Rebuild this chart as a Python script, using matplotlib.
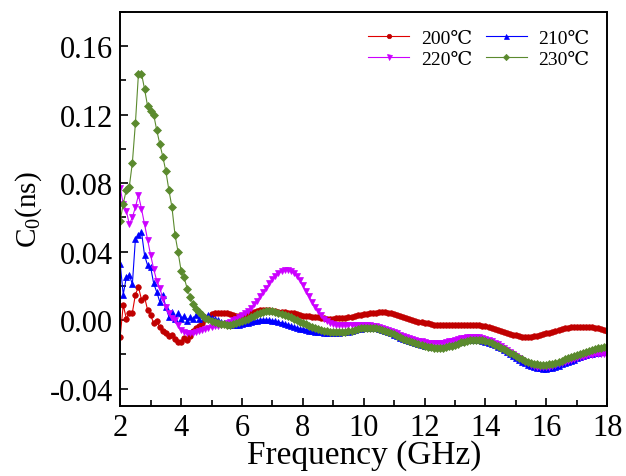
import matplotlib
matplotlib.use("Agg")
import matplotlib.pyplot as plt
from matplotlib.ticker import MultipleLocator, FormatStrFormatter

plt.rcParams['font.family'] = ['Liberation Serif', 'DejaVu Serif', 'DejaVu Sans']
plt.rcParams['axes.unicode_minus'] = False

# frequency grid (GHz)
freq = [
    2.0, 2.1, 2.2, 2.3, 2.4, 2.5, 2.6, 2.7, 2.8, 2.9,
    3.0, 3.1, 3.2, 3.3, 3.4, 3.5, 3.6, 3.7, 3.8, 3.9,
    4.0, 4.1, 4.2, 4.3, 4.4, 4.5, 4.6, 4.7, 4.8, 4.9,
    5.0, 5.1, 5.2, 5.3, 5.4, 5.5, 5.6, 5.7, 5.8, 5.9,
    6.0, 6.1, 6.2, 6.3, 6.4, 6.5, 6.6, 6.7, 6.8, 6.9,
    7.0, 7.1, 7.2, 7.3, 7.4, 7.5, 7.6, 7.7, 7.8, 7.9,
    8.0, 8.1, 8.2, 8.3, 8.4, 8.5, 8.6, 8.7, 8.8, 8.9,
    9.0, 9.1, 9.2, 9.3, 9.4, 9.5, 9.6, 9.7, 9.8, 9.9,
    10.0, 10.1, 10.2, 10.3, 10.4, 10.5, 10.6, 10.7, 10.8, 10.9,
    11.0, 11.1, 11.2, 11.3, 11.4, 11.5, 11.6, 11.7, 11.8, 11.9,
    12.0, 12.1, 12.2, 12.3, 12.4, 12.5, 12.6, 12.7, 12.8, 12.9,
    13.0, 13.1, 13.2, 13.3, 13.4, 13.5, 13.6, 13.7, 13.8, 13.9,
    14.0, 14.1, 14.2, 14.3, 14.4, 14.5, 14.6, 14.7, 14.8, 14.9,
    15.0, 15.1, 15.2, 15.3, 15.4, 15.5, 15.6, 15.7, 15.8, 15.9,
    16.0, 16.1, 16.2, 16.3, 16.4, 16.5, 16.6, 16.7, 16.8, 16.9,
    17.0, 17.1, 17.2, 17.3, 17.4, 17.5, 17.6, 17.7, 17.8, 17.9,
    18.0,
]

c0_200 = [
    -0.0095, 0.0089, 0.0010, 0.0040, 0.0045, 0.0150, 0.0195, 0.0120, 0.0135, 0.0060,
    0.0030, -0.0018, -0.0005, -0.0040, -0.0065, -0.0076, -0.0090, -0.0086, -0.0110, -0.0125,
    -0.0130, -0.0105, -0.0115, -0.0090, -0.0060, -0.0045, -0.0035, -0.0015, 0.0005, 0.0020,
    0.0035, 0.0040, 0.0042, 0.0040, 0.0043, 0.0040, 0.0035, 0.0030, 0.0025, 0.0022,
    0.0020, 0.0025, 0.0032, 0.0040, 0.0047, 0.0053, 0.0057, 0.0060, 0.0060, 0.0058,
    0.0055, 0.0052, 0.0050, 0.0048, 0.0046, 0.0045, 0.0043, 0.0040, 0.0035, 0.0030,
    0.0027, 0.0025, 0.0022, 0.0020, 0.0018, 0.0016, 0.0014, 0.0012, 0.0010, 0.0010,
    0.0010, 0.0012, 0.0012, 0.0012, 0.0014, 0.0017, 0.0020, 0.0024, 0.0028, 0.0031,
    0.0034, 0.0037, 0.0040, 0.0043, 0.0045, 0.0046, 0.0047, 0.0047, 0.0045, 0.0041,
    0.0036, 0.0030, 0.0024, 0.0018, 0.0012, 0.0006, 0.0001, -0.0004, -0.0008, -0.0012,
    -0.0016, -0.0019, -0.0022, -0.0025, -0.0027, -0.0028, -0.0029, -0.0030, -0.0030, -0.0030,
    -0.0030, -0.0030, -0.0030, -0.0029, -0.0029, -0.0028, -0.0028, -0.0029, -0.0030, -0.0032,
    -0.0035, -0.0039, -0.0044, -0.0050, -0.0056, -0.0062, -0.0068, -0.0074, -0.0080, -0.0085,
    -0.0089, -0.0092, -0.0095, -0.0096, -0.0097, -0.0096, -0.0094, -0.0091, -0.0087, -0.0082,
    -0.0077, -0.0072, -0.0067, -0.0062, -0.0057, -0.0052, -0.0048, -0.0044, -0.0041, -0.0039,
    -0.0037, -0.0037, -0.0038, -0.0039, -0.0040, -0.0042, -0.0044, -0.0047, -0.0051, -0.0056,
    -0.0062,
]

c0_210 = [
    0.0330, 0.0150, 0.0250, 0.0265, 0.0210, 0.0475, 0.0495, 0.0515, 0.0380, 0.0320,
    0.0310, 0.0215, 0.0165, 0.0108, 0.0150, 0.0075, 0.0020, 0.0050, 0.0005, 0.0040,
    0.0010, 0.0025, -0.0005, 0.0020, 0.0005, 0.0030, 0.0010, 0.0035, 0.0020, 0.0030,
    0.0015, 0.0010, 0.0000, -0.0008, -0.0015, -0.0020, -0.0025, -0.0028, -0.0028, -0.0026,
    -0.0022, -0.0018, -0.0014, -0.0010, -0.0006, -0.0003, 0.0000, 0.0002, 0.0002, 0.0001,
    -0.0002, -0.0006, -0.0010, -0.0015, -0.0020, -0.0026, -0.0032, -0.0038, -0.0044, -0.0050,
    -0.0054, -0.0057, -0.0060, -0.0063, -0.0066, -0.0068, -0.0070, -0.0072, -0.0073, -0.0074,
    -0.0074, -0.0074, -0.0073, -0.0071, -0.0069, -0.0066, -0.0062, -0.0058, -0.0054, -0.0050,
    -0.0047, -0.0045, -0.0045, -0.0046, -0.0048, -0.0052, -0.0057, -0.0063, -0.0070, -0.0077,
    -0.0085, -0.0093, -0.0101, -0.0109, -0.0116, -0.0123, -0.0129, -0.0135, -0.0140, -0.0145,
    -0.0149, -0.0152, -0.0154, -0.0155, -0.0155, -0.0154, -0.0152, -0.0149, -0.0145, -0.0140,
    -0.0135, -0.0130, -0.0125, -0.0121, -0.0118, -0.0116, -0.0115, -0.0115, -0.0117, -0.0120,
    -0.0125, -0.0131, -0.0138, -0.0146, -0.0155, -0.0165, -0.0176, -0.0187, -0.0198, -0.0209,
    -0.0220, -0.0231, -0.0241, -0.0250, -0.0259, -0.0266, -0.0272, -0.0277, -0.0280, -0.0282,
    -0.0282, -0.0280, -0.0276, -0.0271, -0.0265, -0.0258, -0.0251, -0.0244, -0.0237, -0.0230,
    -0.0223, -0.0216, -0.0210, -0.0205, -0.0200, -0.0196, -0.0192, -0.0189, -0.0186, -0.0184,
    -0.0182,
]

c0_220 = [
    0.0770, 0.0680, 0.0640, 0.0560, 0.0600, 0.0660, 0.0730, 0.0650, 0.0560, 0.0470,
    0.0380, 0.0300, 0.0230, 0.0190, 0.0125, 0.0075, 0.0040, 0.0015, 0.0000, -0.0030,
    -0.0055, -0.0068, -0.0075, -0.0076, -0.0072, -0.0066, -0.0060, -0.0055, -0.0050, -0.0045,
    -0.0040, -0.0036, -0.0032, -0.0027, -0.0021, -0.0015, -0.0008, 0.0000, 0.0008, 0.0017,
    0.0028, 0.0040, 0.0055, 0.0072, 0.0092, 0.0115, 0.0140, 0.0165, 0.0190, 0.0215,
    0.0238, 0.0258, 0.0274, 0.0285, 0.0291, 0.0292, 0.0287, 0.0275, 0.0256, 0.0232,
    0.0204, 0.0172, 0.0140, 0.0108, 0.0078, 0.0051, 0.0028, 0.0010, -0.0004, -0.0014,
    -0.0021, -0.0025, -0.0027, -0.0028, -0.0029, -0.0029, -0.0028, -0.0027, -0.0026, -0.0025,
    -0.0025, -0.0026, -0.0028, -0.0031, -0.0035, -0.0039, -0.0044, -0.0050, -0.0056, -0.0063,
    -0.0070, -0.0077, -0.0084, -0.0091, -0.0098, -0.0104, -0.0110, -0.0115, -0.0120, -0.0124,
    -0.0128, -0.0131, -0.0133, -0.0134, -0.0134, -0.0133, -0.0131, -0.0128, -0.0124, -0.0119,
    -0.0114, -0.0109, -0.0105, -0.0101, -0.0098, -0.0096, -0.0095, -0.0096, -0.0098, -0.0102,
    -0.0107, -0.0114, -0.0122, -0.0131, -0.0141, -0.0152, -0.0163, -0.0175, -0.0187, -0.0199,
    -0.0211, -0.0222, -0.0233, -0.0243, -0.0252, -0.0260, -0.0266, -0.0271, -0.0274, -0.0275,
    -0.0274, -0.0271, -0.0267, -0.0262, -0.0256, -0.0250, -0.0244, -0.0238, -0.0232, -0.0226,
    -0.0221, -0.0216, -0.0212, -0.0208, -0.0205, -0.0202, -0.0200, -0.0198, -0.0196, -0.0195,
    -0.0194,
]

c0_230 = [
    0.0580, 0.0680, 0.0760, 0.0780, 0.0920, 0.1150, 0.1440, 0.1440, 0.1350, 0.1250,
    0.1220, 0.1200, 0.1110, 0.1030, 0.0955, 0.0870, 0.0760, 0.0660, 0.0500, 0.0400,
    0.0290, 0.0250, 0.0185, 0.0135, 0.0092, 0.0065, 0.0048, 0.0030, 0.0015, 0.0005,
    -0.0003, -0.0010, -0.0016, -0.0020, -0.0023, -0.0025, -0.0025, -0.0023, -0.0019, -0.0013,
    -0.0006, 0.0002, 0.0010, 0.0018, 0.0027, 0.0035, 0.0042, 0.0048, 0.0052, 0.0054,
    0.0053, 0.0050, 0.0045, 0.0039, 0.0032, 0.0024, 0.0016, 0.0008, 0.0000, -0.0008,
    -0.0016, -0.0024, -0.0031, -0.0038, -0.0044, -0.0050, -0.0055, -0.0060, -0.0064, -0.0067,
    -0.0069, -0.0070, -0.0070, -0.0069, -0.0067, -0.0064, -0.0060, -0.0056, -0.0052, -0.0048,
    -0.0045, -0.0043, -0.0043, -0.0044, -0.0046, -0.0050, -0.0055, -0.0061, -0.0068, -0.0075,
    -0.0083, -0.0091, -0.0099, -0.0107, -0.0115, -0.0122, -0.0129, -0.0135, -0.0141, -0.0146,
    -0.0151, -0.0155, -0.0158, -0.0160, -0.0161, -0.0161, -0.0160, -0.0157, -0.0153, -0.0148,
    -0.0142, -0.0136, -0.0130, -0.0125, -0.0121, -0.0118, -0.0116, -0.0115, -0.0116, -0.0118,
    -0.0122, -0.0128, -0.0135, -0.0143, -0.0151, -0.0160, -0.0170, -0.0180, -0.0190, -0.0200,
    -0.0210, -0.0219, -0.0228, -0.0236, -0.0243, -0.0249, -0.0254, -0.0258, -0.0260, -0.0261,
    -0.0260, -0.0257, -0.0253, -0.0248, -0.0242, -0.0236, -0.0229, -0.0222, -0.0215, -0.0208,
    -0.0201, -0.0195, -0.0189, -0.0183, -0.0178, -0.0173, -0.0168, -0.0164, -0.0160, -0.0157,
    -0.0155,
]

labels = ['200\u2103', '210\u2103', '220\u2103', '230\u2103']
colors = ['#C00000', '#0000FF', '#CC00FF', '#5B8A2E']
line_colors = ['#E00000', '#0000FF', '#CC00FF', '#5B8A2E']
markers = ['o', '^', 'v', 'D']
msizes = [4, 4.5, 4.5, 4]

fig = plt.figure(figsize=(6.26, 4.77), dpi=100)
ax = fig.add_axes([0.192, 0.147, 0.778, 0.826])

lines = []
for ys, lab, c, lc, m, ms in zip([c0_200, c0_210, c0_220, c0_230], labels, colors, line_colors, markers, msizes):
    ln, = ax.plot(freq, ys, color=lc, lw=0.8, marker=m, ms=ms,
                  markerfacecolor=c, markeredgecolor=c, markeredgewidth=0.5, label=lab)
    lines.append(ln)

ax.set_xlim(2, 18)
ax.set_ylim(-0.05, 0.18)
ax.xaxis.set_major_locator(MultipleLocator(2))
ax.xaxis.set_minor_locator(MultipleLocator(1))
ax.yaxis.set_major_locator(MultipleLocator(0.04))
ax.yaxis.set_minor_locator(MultipleLocator(0.02))
ax.yaxis.set_major_formatter(FormatStrFormatter('%.2f'))
ax.tick_params(which='both', direction='in', top=False, right=False, labelsize=22, width=1.2)
ax.tick_params(which='major', length=6, pad=5)
ax.tick_params(which='minor', length=4)
for sp in ax.spines.values():
    sp.set_linewidth(1.4)

ax.set_xlabel('Frequency (GHz)', fontsize=24, labelpad=-2)
ax.set_ylabel('C$\\mathregular{_0}$(ns)', fontsize=21, labelpad=4)

# legend fills column-wise: [200, 220] then [210, 230]
order = [0, 2, 1, 3]
ax.legend([lines[i] for i in order], [labels[i] for i in order], ncol=2, loc='upper right',
          frameon=False, fontsize=14, numpoints=1, handlelength=2.1, handletextpad=0.6,
          columnspacing=0.7, labelspacing=0.15, markerscale=0.8)

fig.savefig('out.png', dpi=100)
